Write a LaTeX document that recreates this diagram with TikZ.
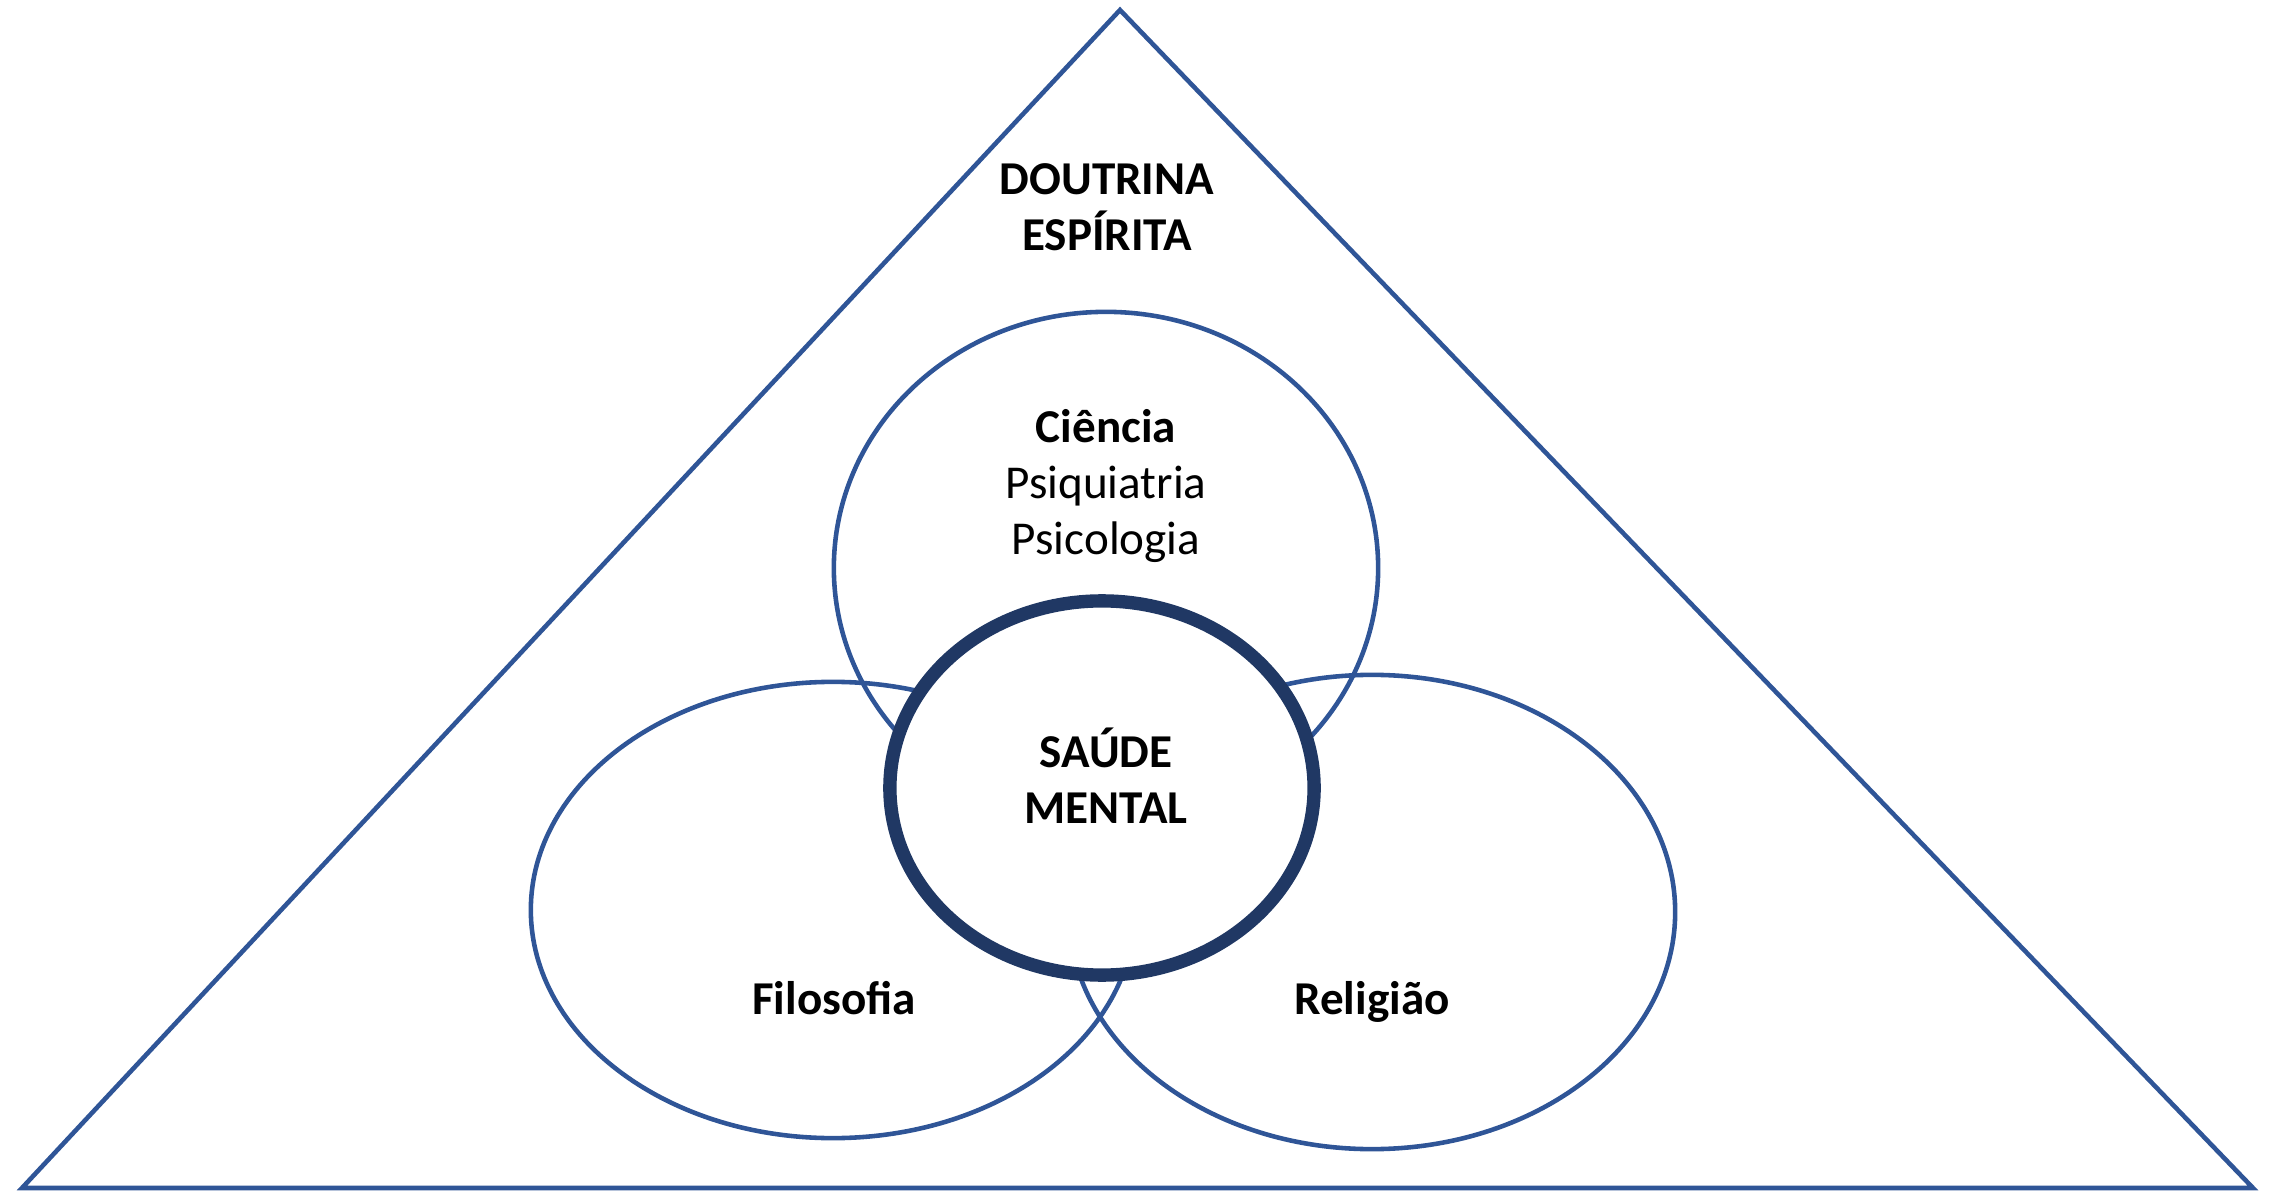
\documentclass[tikz,border=0pt]{standalone}
\usepackage{fontspec}
\setmainfont{Carlito}
\usetikzlibrary{shapes.geometric}
\definecolor{lineblue}{HTML}{2F5597}
\definecolor{navyblue}{HTML}{203864}

\begin{document}
\begin{tikzpicture}[x=0.01cm,y=-0.01cm,
        area/.style={draw=lineblue,line width=1.3pt,ellipse,inner sep=0pt},
        txt/.style={font=\fontsize{13.4}{16}\selectfont,align=center,text=black},
        txtb/.style={font=\fontsize{13.4}{16}\selectfont\bfseries,align=center,text=black}]
        \useasboundingbox (0,0) rectangle (2277,1194);
        % triangle
        \coordinate (Top) at (1120,10);
        \coordinate (BL) at (22,1188);
        \coordinate (BR) at (2253,1188);
        \draw [lineblue,line width=1.3pt,line join=miter] (Top) -- (BL) -- (BR) -- cycle;
        % the three areas
        \node [area,minimum width=5.44cm,minimum height=5.12cm] (Cie) at (1106,568) {};
        \node [area,minimum width=6.04cm,minimum height=4.56cm] (Fil) at (833,910) {};
        \node [area,minimum width=6.06cm,minimum height=4.74cm] (Rel) at (1372,912) {};
        % centre
        \node [draw=navyblue,fill=white,line width=3.8pt,ellipse,inner sep=0pt,
            minimum width=4.24cm,minimum height=3.74cm] (SM) at (1102,788) {};
        % texts
        \node [txtb] (DE) at (1107,207) {DOUTRINA\\ESPÍRITA};
        \node [txt] (CieT) at (1106,486) {\textbf{Ciência}\\Psiquiatria\\Psicologia};
        \node [txtb] (SMT) at (1106,776) {SAÚDE\\MENTAL};
        \node [txtb,anchor=base] (FilT) at (834,1014) {Filosofia};
        \node [txtb,anchor=base] (RelT) at (1372,1014) {Religião};
\end{tikzpicture}
\end{document}
